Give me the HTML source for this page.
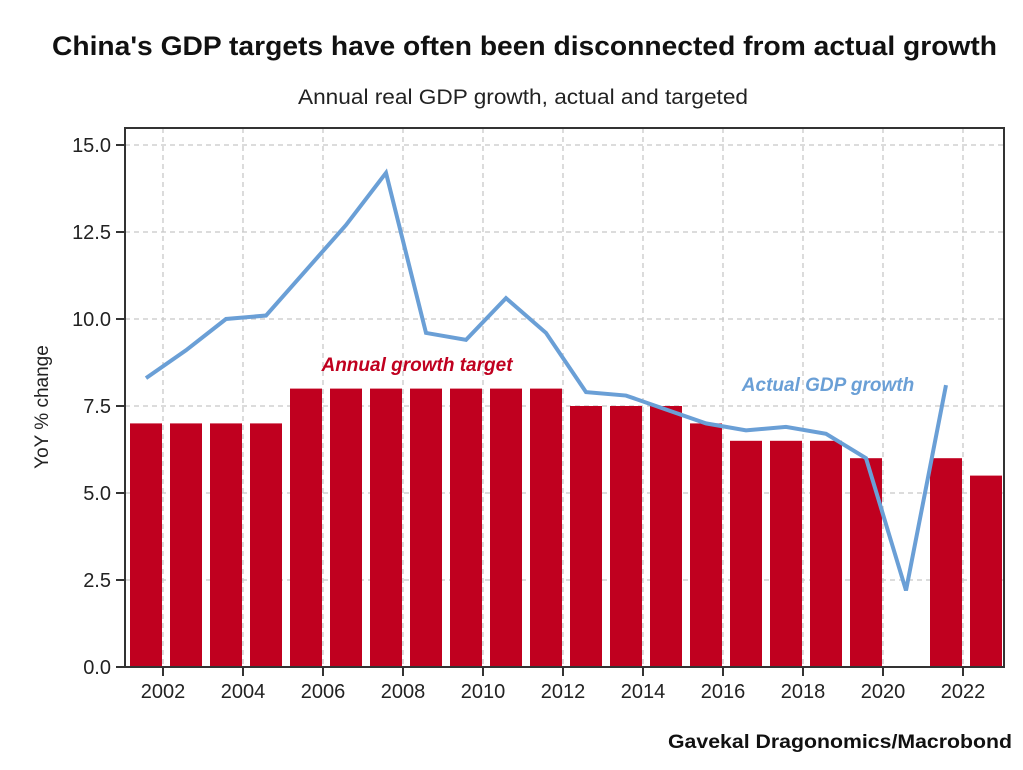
<!DOCTYPE html>
<html><head><meta charset="utf-8"><style>
body{margin:0;background:#fff;}
svg text{font-family:"Liberation Sans",sans-serif;}
</style></head><body>
<svg id="c" width="1023" height="765" xmlns="http://www.w3.org/2000/svg">
<text x="52" y="55" textLength="945" lengthAdjust="spacingAndGlyphs" font-size="27" font-weight="bold" fill="#111">China's GDP targets have often been disconnected from actual growth</text>
<text x="298" y="104" textLength="450" lengthAdjust="spacingAndGlyphs" font-size="21" fill="#222">Annual real GDP growth, actual and targeted</text>
<text transform="translate(48,407) rotate(-90)" text-anchor="middle" font-size="19" fill="#222">YoY % change</text>
<text x="1012" y="748" text-anchor="end" textLength="344" lengthAdjust="spacingAndGlyphs" font-size="19" font-weight="bold" fill="#111">Gavekal Dragonomics/Macrobond</text>
<g id="grid"></g><g id="bars"></g><g id="line"></g><g id="axes"></g>
<text x="417" y="371" text-anchor="middle" font-size="19" font-weight="bold" font-style="italic" fill="#c0001f">Annual growth target</text>
<text x="828" y="391" text-anchor="middle" font-size="19" font-weight="bold" font-style="italic" fill="#6a9fd6">Actual GDP growth</text>
</svg>
<script>
const years=[2001,2002,2003,2004,2005,2006,2007,2008,2009,2010,2011,2012,2013,2014,2015,2016,2017,2018,2019,2020,2021,2022];
const targets=[7,7,7,7,8,8,8,8,8,8,8,7.5,7.5,7.5,7,6.5,6.5,6.5,6,null,6,5.5];
const actualYears=[2001,2002,2003,2004,2005,2006,2007,2008,2009,2010,2011,2012,2013,2014,2015,2016,2017,2018,2019,2020,2021];
const actual=[8.3,9.1,10.0,10.1,11.4,12.7,14.2,9.6,9.4,10.6,9.6,7.9,7.8,7.4,7.0,6.8,6.9,6.7,6.0,2.2,8.1];
const yTicks=[0,2.5,5,7.5,10,12.5,15];
const yTickLabels=["0.0","2.5","5.0","7.5","10.0","12.5","15.0"];
const xTicks=[2002,2004,2006,2008,2010,2012,2014,2016,2018,2020,2022];
const L=125,R=1004,T=128,B=667;
const xs=y=>146+(y-2001)*40;
const ys=v=>667-v*34.8;
const NS="http://www.w3.org/2000/svg";
function mk(p,t,a){const e=document.createElementNS(NS,t);for(const k in a)e.setAttribute(k,a[k]);document.getElementById(p).appendChild(e);return e;}
yTicks.forEach((v,i)=>{
 const g=mk('grid','line',{x1:L,x2:R,y1:ys(v),y2:ys(v),stroke:'#c8c8c8','stroke-dasharray':'5,4','stroke-width':1.3});
 
 
 const t=mk('axes','line',{x1:L-9,x2:L,y1:ys(v),y2:ys(v),stroke:'#333','stroke-width':2});
 
 
 const tx=mk('axes','text',{x:L-14,y:ys(v)+7,'text-anchor':'end','font-size':20,fill:'#222'});
 tx.textContent=yTickLabels[i];
 
 
});
xTicks.forEach(y=>{
 const x=xs(y-0.575);
 const g=mk('grid','line',{x1:x,x2:x,y1:T,y2:B,stroke:'#c8c8c8','stroke-dasharray':'5,4','stroke-width':1.3});
 
 
 const t=mk('axes','line',{x1:x,x2:x,y1:B,y2:B+9,stroke:'#333','stroke-width':2});
 
 
 const tx=mk('axes','text',{x:x,y:B+31,'text-anchor':'middle','font-size':20,fill:'#222'});
 tx.textContent=y;
 
 
});
years.forEach((y,i)=>{
 if(targets[i]==null)return;
 const b=mk('bars','rect',{x:xs(y)-16,y:ys(targets[i]),width:32,height:ys(0)-ys(targets[i]),fill:'#c0001f'});
 
 
});
const p=mk('line','polyline',{points:actualYears.map((y,i)=>xs(y)+','+ys(actual[i])).join(' '),fill:'none',stroke:'#6a9fd6','stroke-width':4,'stroke-linejoin':'miter'});


const f=mk('axes','rect',{x:L,y:T,width:R-L,height:B-T,fill:'none',stroke:'#333','stroke-width':2});


</script>
</body></html>
